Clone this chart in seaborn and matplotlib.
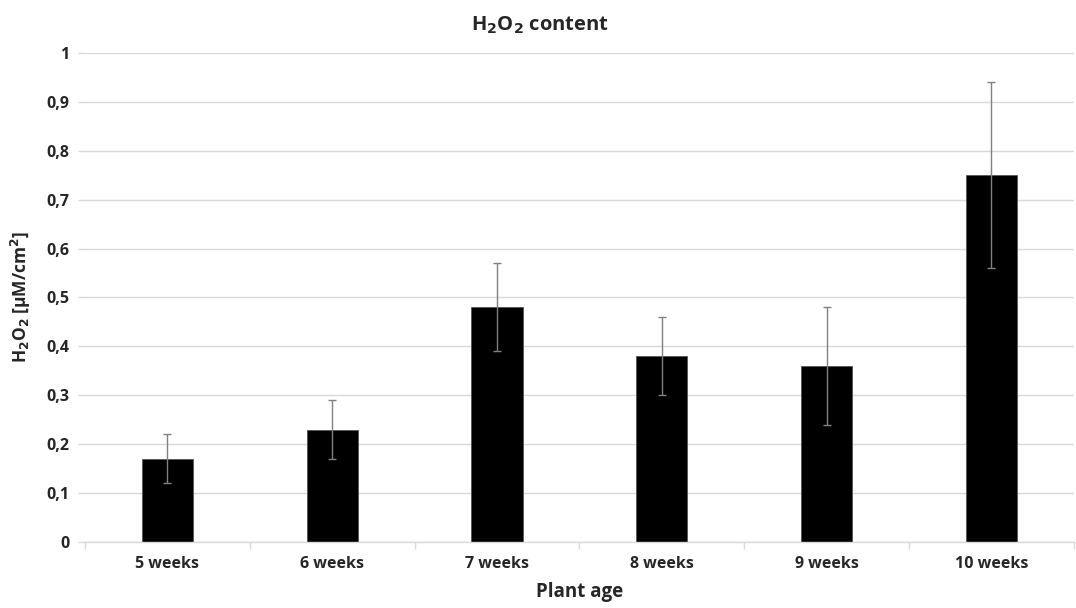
import matplotlib
matplotlib.use("Agg")
import matplotlib.pyplot as plt
import seaborn as sns
import pandas as pd
from matplotlib.ticker import FuncFormatter

# Hydrogen peroxide content by plant age
ages = ["5 weeks", "6 weeks", "7 weeks", "8 weeks", "9 weeks", "10 weeks"]
h2o2 = [0.17, 0.23, 0.48, 0.38, 0.36, 0.75]
h2o2_err = [0.05, 0.06, 0.09, 0.08, 0.12, 0.19]

df = pd.DataFrame({"age": ages, "h2o2": h2o2, "err": h2o2_err})

sns.set_theme(style="white")
plt.rcParams["font.family"] = ["Open Sans", "DejaVu Sans"]
plt.rcParams["font.weight"] = "bold"

fig = plt.figure(figsize=(10.76, 6.08), dpi=100)
ax = fig.add_axes([0.079, 0.1086, 0.919, 0.8042])

sns.barplot(data=df, x="age", y="h2o2", color="black", width=0.31,
            errorbar=None, saturation=1, ax=ax, zorder=2)
for p in ax.patches:
    p.set_edgecolor("#555555")
    p.set_linewidth(0.6)

ax.errorbar(x=range(len(df)), y=df["h2o2"], yerr=df["err"], fmt="none",
            ecolor="#808080", elinewidth=1.0, capsize=2.6, capthick=1.0, zorder=3)

ax.set_ylim(0, 1)
ax.set_xlim(-0.5, len(ages) - 0.5)
ax.set_yticks([i / 10 for i in range(11)])
ax.yaxis.set_major_formatter(FuncFormatter(
    lambda v, _: "0" if v == 0 else ("1" if v == 1 else f"{v:.1f}".replace(".", ","))))
ax.grid(axis="y", color="#d9d9d9", linewidth=1.0, zorder=0)
ax.set_axisbelow(True)

for s in ["top", "right", "left"]:
    ax.spines[s].set_visible(False)
ax.spines["bottom"].set_color("#d9d9d9")
ax.spines["bottom"].set_linewidth(1.0)

# category boundary ticks on the x axis
ax.set_xticks([i - 0.5 for i in range(len(ages) + 1)], minor=True)
ax.tick_params(axis="x", which="minor", length=5, color="#d9d9d9", width=1, direction="out", bottom=True)
ax.tick_params(axis="x", which="major", length=0, labelsize=11.5, pad=10)
ax.tick_params(axis="y", length=5, color="#d9d9d9", width=1, labelsize=11.5, left=True, pad=6)
for lbl in ax.get_xticklabels() + ax.get_yticklabels():
    lbl.set_fontweight("bold")
    lbl.set_color("#262626")

ax.set_xlabel("Plant age", fontsize=13.5, fontweight="bold", color="#262626", labelpad=7)
ax.set_ylabel(r"H$_\mathbf{2}$O$_\mathbf{2}$ [µM/cm$^\mathbf{2}$]", fontsize=12.5,
              fontweight="bold", color="#262626", labelpad=10)
fig.text(0.502, 0.958, r"H$_\mathbf{2}$O$_\mathbf{2}$ content", ha="center", va="center",
         fontsize=14.5, fontweight="bold", color="#262626")

fig.savefig("out.png", dpi=100, facecolor="white")
